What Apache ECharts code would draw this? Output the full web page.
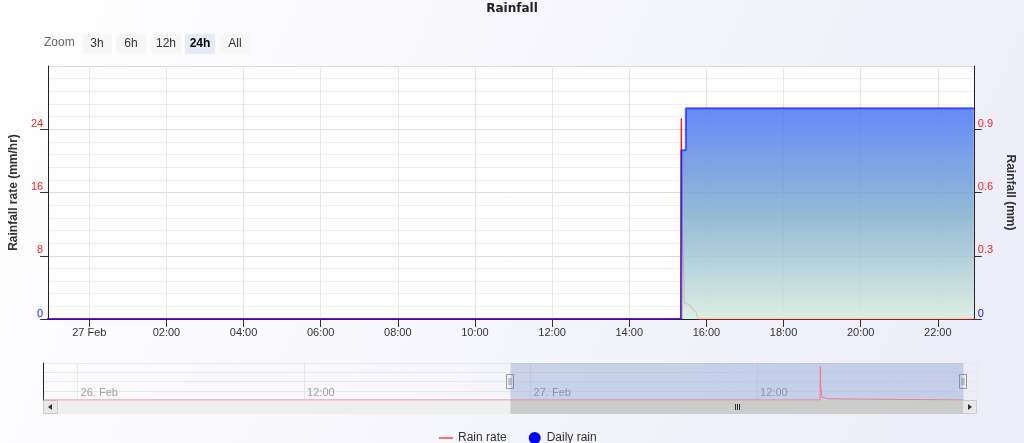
<!DOCTYPE html>
<html>
<head>
<meta charset="utf-8">
<script src="https://cdn.jsdelivr.net/npm/echarts@6/dist/echarts.min.js"></script>
<style>
html,body{margin:0;padding:0;width:1024px;height:443px;overflow:hidden;}
#c{width:1024px;height:443px;}
</style>
</head>
<body>
<div id="c"></div>
<script>
// ---- data ----
const YEAR = 2025;
const MONTHS = ['Jan','Feb','Mar','Apr','May','Jun','Jul','Aug','Sep','Oct','Nov','Dec'];
const rateTimes  = ['02-25 22:10','02-27 15:20','02-27 15:21','02-27 15:22','02-27 15:26','02-27 15:34','02-27 15:37','02-27 15:44','02-27 15:47','02-27 22:56'];
const rateValues = [0, 0, 25.4, 12.5, 2.0, 1.8, 1.4, 0.9, 0, 0];
const dailyTimes  = ['02-25 22:10','02-27 15:21','02-27 15:28','02-27 22:56'];
const dailyValues = [0, 0.8, 1.0, 1.0];
const windowRange = ['02-26 22:56','02-27 22:56'];
const navRange    = ['02-25 22:10','02-27 23:39'];
const zoomButtons = ['3h','6h','12h','24h','All'];
const selectedButton = '24h';

function t(s){
  const m = s.match(/(\d+)-(\d+) (\d+):(\d+)/);
  return Date.UTC(YEAR, +m[1]-1, +m[2], +m[3], +m[4]);
}
const rateData = rateTimes.map((s,i)=>[t(s), rateValues[i]]);
const dailyData = dailyTimes.map((s,i)=>[t(s), dailyValues[i]]);
const winStart = t(windowRange[0]), winEnd = t(windowRange[1]);

function pad(n){return (n<10?'0':'')+n;}
function mainLabel(v){
  const d = new Date(v);
  if (d.getUTCHours()===0 && d.getUTCMinutes()===0) return d.getUTCDate()+' '+MONTHS[d.getUTCMonth()];
  return pad(d.getUTCHours())+':'+pad(d.getUTCMinutes());
}
function navLabel(v){
  const d = new Date(v);
  if (d.getUTCHours()===0 && d.getUTCMinutes()===0) return d.getUTCDate()+'. '+MONTHS[d.getUTCMonth()];
  return pad(d.getUTCHours())+':'+pad(d.getUTCMinutes());
}
const FONT = 'Liberation Sans, Arial, sans-serif';

const chart = echarts.init(document.getElementById('c'), null, {renderer:'canvas'});
const option = {
  useUTC: true,
  animation: false,
  backgroundColor: {type:'linear', x:0, y:0, x2:1, y2:1, colorStops:[{offset:0,color:'#ffffff'},{offset:1,color:'#ececf9'}]},
  textStyle: {fontFamily: FONT},
  title: {text:'Rainfall', left:'center', top:-2, textStyle:{fontFamily:'DejaVu Sans, sans-serif', fontSize:12, fontWeight:'bold', color:'#222'}},
  legend: {
    left: 434, top: 427, itemWidth: 14, itemHeight: 12, itemGap: 22,
    textStyle: {fontSize: 12, color:'#333', fontFamily: FONT},
    data: [
      {name:'Rain rate', icon:'path://M0,0H14V2H0Z', itemStyle:{color:'#ff6f6f', borderWidth:0}},
      {name:'Daily rain', icon:'circle', itemStyle:{color:'#0000ff', borderWidth:0}}
    ]
  },
  grid: [
    {left:43, right:46, top:66, height:253, show:true, backgroundColor:'#ffffff', borderWidth:0},
    {left:43, right:47, top:363, height:37, show:false}
  ],
  xAxis: [
    {
      type:'time', gridIndex:0, min:winStart, max:winEnd,
      splitNumber:9,
      axisLine:{show:true, lineStyle:{color:'#222', width:1}},
      axisTick:{show:true, length:8, lineStyle:{color:'#333'}},
      axisLabel:{formatter:mainLabel, color:'#333', fontSize:11, margin:8, showMinLabel:false, showMaxLabel:false},
      splitLine:{show:true, lineStyle:{color:'#e6e6e6'}}
    },
    {
      type:'time', gridIndex:1, min:t(navRange[0]), max:t(navRange[1]),
      splitNumber:3,
      axisLine:{show:false}, axisTick:{show:false},
      axisLabel:{formatter:navLabel, inside:true, align:'left', padding:[0,0,0,3], color:'#a0a0a0', fontSize:11, margin:2, showMinLabel:false, showMaxLabel:false},
      splitLine:{show:true, lineStyle:{color:'#e6e6e6'}}
    }
  ],
  yAxis: [
    {
      type:'value', gridIndex:0, position:'left', min:0, max:32, interval:8,
      name:'Rainfall rate (mm/hr)', nameLocation:'middle', nameGap:27,
      nameTextStyle:{fontWeight:'bold', fontSize:12, color:'#333', fontFamily: FONT},
      axisLine:{show:true, lineStyle:{color:'#222'}},
      axisTick:{show:true, length:8, lineStyle:{color:'#333'}},
      axisLabel:{color:(v)=> (+v===0 ? '#2020ff' : '#ff2020'), fontSize:11, margin:5, verticalAlign:'bottom', showMaxLabel:false},
      splitLine:{show:true, lineStyle:{color:'#dcdcdc'}},
      minorTick:{show:false, splitNumber:5},
      minorSplitLine:{show:true, lineStyle:{color:'#efefef'}}
    },
    {
      type:'value', gridIndex:0, position:'right', min:0, max:1.2, interval:0.3,
      name:'Rainfall (mm)', nameLocation:'middle', nameGap:28, nameRotate:-90,
      nameTextStyle:{fontWeight:'bold', fontSize:12, color:'#333', fontFamily: FONT},
      axisLine:{show:true, lineStyle:{color:'#222'}},
      axisTick:{show:true, length:8, lineStyle:{color:'#333'}},
      axisLabel:{color:(v)=> (+v===0 ? '#2020ff' : '#ff2020'), fontSize:11, margin:4, verticalAlign:'bottom', showMaxLabel:false,
        formatter:(v)=> (+v===0 ? '0' : (+v).toFixed(1))},
      splitLine:{show:false}
    },
    {
      type:'value', gridIndex:1, min:0, max:28, interval:7,
      axisLine:{show:true, lineStyle:{color:'#222'}},
      axisTick:{show:false}, axisLabel:{show:false},
      splitLine:{show:true, lineStyle:{color:'#e8e8e8'}}
    }
  ],
  series: [
    {
      name:'Rain rate', type:'line', xAxisIndex:0, yAxisIndex:0, data:rateData,
      showSymbol:false, symbol:'none', color:'#ff2020',
      lineStyle:{color:'#ff1a1a', width:1.3}, z:2
    },
    {
      name:'Daily rain', type:'line', xAxisIndex:0, yAxisIndex:1, data:dailyData, step:'end',
      showSymbol:false, symbol:'none', color:'#0000ff',
      lineStyle:{color:'rgba(0,0,255,0.6)', width:2},
      areaStyle:{opacity:1, color:{type:'linear', x:0, y:0, x2:0, y2:1, colorStops:[
        {offset:0, color:'rgba(75,118,247,0.85)'},
        {offset:0.5, color:'rgba(128,174,205,0.85)'},
        {offset:1, color:'rgba(216,235,222,0.85)'}
      ]}}, z:3
    },
    {
      name:'nav', type:'line', xAxisIndex:1, yAxisIndex:2, data:rateData,
      showSymbol:false, symbol:'none', lineStyle:{color:'#f07c86', width:1}, silent:true,
      markArea:{silent:true, itemStyle:{color:'rgba(102,133,194,0.3)'}, data:[[{xAxis:winStart},{xAxis:winEnd}]]}
    }
  ]
};
chart.setOption(option);

// ---- decorations (zoom buttons, navigator handles, scrollbar) ----
const g = [];
g.push({type:'text', left:44, top:37, style:{text:'Zoom', fill:'#666', font:'12px '+FONT}});
const btnX = [82, 116, 151, 185, 220];
zoomButtons.forEach((b,i)=>{
  const sel = b===selectedButton;
  g.push({type:'rect', shape:{x:btnX[i], y:34, width:30, height:20, r:2}, style:{fill: sel ? '#e6ebf5' : '#f7f7f7'}});
  g.push({type:'text', x:btnX[i]+15, y:44, style:{text:b, fill: sel ? '#000' : '#333', font:(sel?'bold ':'')+'12px '+FONT, align:'center', verticalAlign:'middle'}});
});
const x0 = chart.convertToPixel({xAxisIndex:1}, winStart);
const x1 = chart.convertToPixel({xAxisIndex:1}, winEnd);
const sbY = 400, sbH = 14, sbL = 43, sbR = 977;
g.push({type:'rect', shape:{x:sbL, y:sbY, width:sbR-sbL, height:sbH}, style:{fill:'#efefef'}});
g.push({type:'rect', shape:{x:x0, y:sbY, width:x1-x0, height:sbH}, style:{fill:'#cccccc'}});
const cx = Math.round((x0+x1)/2)+0.5;
[-2,0,2].forEach(d=>g.push({type:'line', shape:{x1:cx+d, y1:sbY+4, x2:cx+d, y2:sbY+10}, style:{stroke:'#333', lineWidth:1}}));
g.push({type:'rect', shape:{x:sbL+0.5, y:sbY+0.5, width:14, height:sbH-1}, style:{fill:'#e8e8e8', stroke:'#cccccc'}});
g.push({type:'polygon', shape:{points:[[sbL+9,sbY+4],[sbL+9,sbY+10],[sbL+5,sbY+7]]}, style:{fill:'#333'}});
g.push({type:'rect', shape:{x:sbR-14.5, y:sbY+0.5, width:14, height:sbH-1}, style:{fill:'#e8e8e8', stroke:'#cccccc'}});
g.push({type:'polygon', shape:{points:[[sbR-9,sbY+4],[sbR-9,sbY+10],[sbR-5,sbY+7]]}, style:{fill:'#333'}});
[x0, x1].forEach(x=>{
  const hx = Math.round(x)-3.5;
  g.push({type:'rect', shape:{x:hx, y:374.5, width:7, height:14}, style:{fill:'#f2f2f2', stroke:'#999', lineWidth:1}});
  g.push({type:'line', shape:{x1:hx+2.5, y1:378, x2:hx+2.5, y2:385}, style:{stroke:'#999', lineWidth:1}});
  g.push({type:'line', shape:{x1:hx+4.5, y1:378, x2:hx+4.5, y2:385}, style:{stroke:'#999', lineWidth:1}});
});
chart.setOption({graphic: g});
</script>
</body>
</html>
